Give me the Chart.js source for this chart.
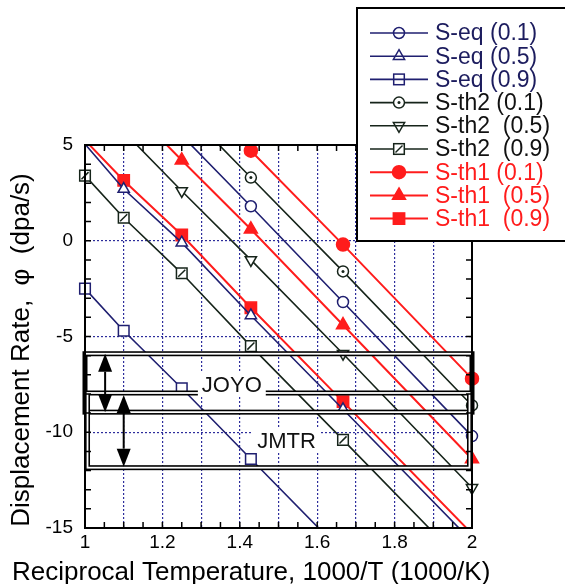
<!DOCTYPE html>
<html>
<head>
<meta charset="utf-8">
<script src="https://cdn.jsdelivr.net/npm/chart.js@4.4.0/dist/chart.umd.min.js"></script>
<style>
html, body { margin: 0; padding: 0; background: #fff; }
#caixa { width: 565px; height: 584px; }
</style>
</head>
<body>
<div id="caixa"><canvas id="grafico" width="565" height="584"></canvas></div>
<script>
// 1000/T nos pontos calculados (1000, 909, 800, 700, 600, 500 K)
const recipT = [1.0, 1.1, 1.25, 1.4286, 1.6667, 2.0];

// taxa de deslocamento
const seq01  = [10.7, 8.6, 5.5, 1.8, -3.2, -10.2];
const seq05  = [5.05, 2.7, -0.1, -3.9, -8.8, -15.7];
const seq09  = [-2.5, -4.7, -7.7, -11.4, -16.3, -23.2];
const sth201 = [12.2, 10.1, 7.0, 3.3, -1.6, -8.6];
const sth205 = [7.8, 5.7, 2.6, -1.0, -5.9, -12.9];
const sth209 = [3.4, 1.2, -1.7, -5.5, -10.4, -17.3];
const sth101 = [13.6, 11.5, 8.4, 4.7, -0.2, -7.2];
const sth105 = [9.4, 7.3, 4.2, 0.6, -4.4, -11.4];
const sth109 = [5.25, 3.15, 0.3, -3.5, -8.4, -15.3];

const nomes = ['S-eq (0.1)', 'S-eq (0.5)', 'S-eq (0.9)',
               'S-th2 (0.1)', 'S-th2  (0.5)', 'S-th2  (0.9)',
               'S-th1 (0.1)', 'S-th1  (0.5)', 'S-th1  (0.9)'];
const series = [seq01, seq05, seq09, sth201, sth205, sth209, sth101, sth105, sth109];

const marcasX = [1, 1.1, 1.2, 1.3, 1.4, 1.5, 1.6, 1.7, 1.8, 1.9, 2];
const rotulosX = [1, 1.2, 1.4, 1.6, 1.8, 2];
const marcasY = [-15, -10, -5, 0, 5];

// faixas dos reatores
const joyo = [-5.9, -8.95];
const jmtr = [-7.95, -11.85];

const AZUL = '#1f1f70', PRETO = '#16241a', VERMELHO = '#ff1c1c', GRADE = '#2d2d9c';
const FONTE = '"Liberation Sans", Arial, sans-serif';

const estilos = [
    {cor: AZUL, ponto: 'circle', raio: 5.5, fundo: '#fff', rot: 0, larg: 1.6},
    {cor: AZUL, ponto: 'triangle', raio: 6.5, fundo: '#fff', rot: 0, larg: 1.6},
    {cor: AZUL, ponto: 'rect', raio: 7.5, fundo: '#fff', rot: 0, larg: 1.6},
    {cor: PRETO, ponto: 'circle', raio: 5.5, fundo: '#fff', rot: 0, larg: 1.6, extra: 'ponto'},
    {cor: PRETO, ponto: 'triangle', raio: 6.5, fundo: '#fff', rot: 180, larg: 1.6},
    {cor: PRETO, ponto: 'rect', raio: 7.5, fundo: '#fff', rot: 0, larg: 1.6, extra: 'barra'},
    {cor: VERMELHO, ponto: 'circle', raio: 6.5, fundo: VERMELHO, rot: 0, larg: 2},
    {cor: VERMELHO, ponto: 'triangle', raio: 7.5, fundo: VERMELHO, rot: 0, larg: 2},
    {cor: VERMELHO, ponto: 'rect', raio: 8, fundo: VERMELHO, rot: 0, larg: 2}
];

function raioVisivel(r) {
    return function(c) {
        const v = c.raw ? c.raw.y : null;
        return (v === null || v > 5 || v < -15) ? 0 : r;
    };
}
function pares(vals) {
    return recipT.map(function(t, k) { return {x: t, y: vals[k]}; });
}
const CLIP = {left: 12, right: 12, top: 0, bottom: 0};

const datasets = series.map(function(vals, i) {
    const e = estilos[i];
    return {
        label: nomes[i],
        data: pares(vals),
        borderColor: e.cor,
        borderWidth: e.larg,
        backgroundColor: e.fundo,
        pointStyle: e.ponto,
        pointRotation: e.rot,
        pointBorderColor: e.cor,
        pointBackgroundColor: e.fundo,
        pointBorderWidth: 1.5,
        pointRadius: raioVisivel(e.raio),
        pointHoverRadius: 0,
        tension: 0,
        clip: CLIP
    };
});
// detalhes dos marcadores S-th2: ponto central e barra diagonal (desenhados por cima)
datasets.push({
    label: '', data: pares(sth201), showLine: false, order: -1,
    pointStyle: 'circle', pointRadius: raioVisivel(1.5), pointBorderWidth: 0,
    pointBackgroundColor: PRETO, pointBorderColor: PRETO, pointHoverRadius: 0, clip: CLIP
});
datasets.push({
    label: '', data: pares(sth209), showLine: false, order: -1,
    pointStyle: 'line', pointRotation: -45, pointRadius: raioVisivel(5), pointBorderWidth: 1.5,
    pointBorderColor: PRETO, pointBackgroundColor: PRETO, pointHoverRadius: 0, clip: CLIP
});

function desenhaMarca(ctx, e, x, y, fundo) {
    ctx.save();
    ctx.strokeStyle = e.cor; ctx.lineWidth = 1.5; ctx.fillStyle = fundo || '#fff';
    if (e.ponto === 'circle') {
        ctx.beginPath(); ctx.arc(x, y, e.raio, 0, 2 * Math.PI);
        if (fundo) ctx.fill(); ctx.stroke();
    } else if (e.ponto === 'triangle') {
        ctx.beginPath();
        for (let k = 0; k < 3; k++) {
            const a = (e.rot + k * 120) * Math.PI / 180;
            const px = x + Math.sin(a) * e.raio, py = y - Math.cos(a) * e.raio;
            if (k === 0) ctx.moveTo(px, py); else ctx.lineTo(px, py);
        }
        ctx.closePath();
        if (fundo) ctx.fill(); ctx.stroke();
    } else {
        const s = e.raio * Math.SQRT1_2;
        if (fundo) ctx.fillRect(x - s, y - s, 2 * s, 2 * s);
        ctx.strokeRect(x - s, y - s, 2 * s, 2 * s);
    }
    if (e.extra === 'ponto') {
        ctx.beginPath(); ctx.arc(x, y, 1.5, 0, 2 * Math.PI); ctx.fillStyle = e.cor; ctx.fill();
    } else if (e.extra === 'barra') {
        ctx.beginPath(); ctx.moveTo(x - 3.5, y + 3.5); ctx.lineTo(x + 3.5, y - 3.5); ctx.stroke();
    }
    ctx.restore();
}

function seta(ctx, x, y1, y2) {
    const h = 18, w = 7;
    ctx.save();
    ctx.fillStyle = '#000'; ctx.strokeStyle = '#000'; ctx.lineWidth = 2;
    ctx.beginPath(); ctx.moveTo(x, y1 + h); ctx.lineTo(x, y2 - h); ctx.stroke();
    ctx.beginPath(); ctx.moveTo(x, y1); ctx.lineTo(x - w, y1 + h); ctx.lineTo(x + w, y1 + h); ctx.closePath(); ctx.fill();
    ctx.beginPath(); ctx.moveTo(x, y2); ctx.lineTo(x - w, y2 - h); ctx.lineTo(x + w, y2 - h); ctx.closePath(); ctx.fill();
    ctx.restore();
}

function caixaDupla(ctx, x1, y1, x2, y2) {
    ctx.save();
    ctx.strokeStyle = '#000'; ctx.lineWidth = 5;
    ctx.strokeRect(x1, y1, x2 - x1, y2 - y1);
    ctx.strokeStyle = '#fff'; ctx.lineWidth = 1.8;
    ctx.strokeRect(x1, y1, x2 - x1, y2 - y1);
    ctx.restore();
}

function rotulo(ctx, texto, x, y, fundo) {
    ctx.save();
    ctx.font = '22px ' + FONTE;
    ctx.textAlign = 'left'; ctx.textBaseline = 'alphabetic';
    const w = ctx.measureText(texto).width;
    ctx.fillStyle = '#fff';
    ctx.fillRect(x - fundo, y - 20, w + 2 * fundo, 25);
    ctx.fillStyle = '#111';
    ctx.fillText(texto, x, y);
    ctx.restore();
}

const extras = {
    id: 'extras',
    afterDatasetsDraw: function(chart) {
        const ctx = chart.ctx, a = chart.chartArea;
        const sx = chart.scales.x, sy = chart.scales.y;
        // faixas JOYO / JMTR
        caixaDupla(ctx, sx.getPixelForValue(1), sy.getPixelForValue(joyo[0]), sx.getPixelForValue(2), sy.getPixelForValue(joyo[1]));
        caixaDupla(ctx, sx.getPixelForValue(1.0065), sy.getPixelForValue(jmtr[0]), sx.getPixelForValue(1.9935), sy.getPixelForValue(jmtr[1]));
        seta(ctx, sx.getPixelForValue(1.052), sy.getPixelForValue(joyo[0]), sy.getPixelForValue(joyo[1]));
        seta(ctx, sx.getPixelForValue(1.1), sy.getPixelForValue(jmtr[0]) + 2, sy.getPixelForValue(jmtr[1]) - 1);
        rotulo(ctx, 'JOYO', sx.getPixelForValue(1.302), sy.getPixelForValue(-7.88), 4);
        rotulo(ctx, 'JMTR', sx.getPixelForValue(1.445), sy.getPixelForValue(-10.8), 5);
        // moldura
        ctx.save();
        ctx.strokeStyle = '#000'; ctx.lineWidth = 2;
        ctx.strokeRect(a.left, a.top, a.right - a.left, a.bottom - a.top);
        // marcas internas
        ctx.lineWidth = 1.5;
        ctx.beginPath();
        for (let k = 0; k <= 20; k++) {
            const px = sx.getPixelForValue(1 + k * 0.05);
            ctx.moveTo(px, a.bottom); ctx.lineTo(px, a.bottom - 6);
            ctx.moveTo(px, a.top); ctx.lineTo(px, a.top + 6);
        }
        for (let v = -15; v <= 5; v++) {
            const py = sy.getPixelForValue(v);
            ctx.moveTo(a.left, py); ctx.lineTo(a.left + 6, py);
            ctx.moveTo(a.right, py); ctx.lineTo(a.right - 6, py);
        }
        ctx.stroke();
        ctx.restore();
    },
    afterDraw: function(chart) {
        const ctx = chart.ctx;
        ctx.save();
        // titulos dos eixos
        ctx.fillStyle = '#000';
        ctx.font = '26px ' + FONTE;
        ctx.textAlign = 'left'; ctx.textBaseline = 'alphabetic';
        ctx.fillText('Reciprocal Temperature, 1000/T (1000/K)', 12, 580);
        ctx.translate(29, 350);
        ctx.rotate(-Math.PI / 2);
        ctx.textAlign = 'center';
        ctx.fillText('Displacement Rate,  \u03c6  (dpa/s)', 0, 0);
        ctx.restore();

        // legenda
        ctx.save();
        ctx.fillStyle = '#fff';
        ctx.fillRect(357, 8, 220, 233);
        ctx.strokeStyle = '#000'; ctx.lineWidth = 2;
        ctx.strokeRect(357, 8, 220, 233);
        ctx.font = '23px ' + FONTE;
        ctx.textBaseline = 'middle'; ctx.textAlign = 'left';
        for (let i = 0; i < nomes.length; i++) {
            const e = estilos[i];
            const y = 33 + i * 23.2;
            ctx.strokeStyle = e.cor; ctx.lineWidth = e.larg;
            ctx.beginPath(); ctx.moveTo(370, y); ctx.lineTo(428, y); ctx.stroke();
            const aberto = (i < 3 || i === 4) ? null : e.fundo;
            desenhaMarca(ctx, e, 399, y, aberto);
            ctx.fillStyle = i < 3 ? '#1c1c5e' : (i < 6 ? '#111' : VERMELHO);
            ctx.fillText(nomes[i], 435, y + 1);
        }
        ctx.restore();
    }
};

new Chart(document.getElementById('grafico'), {
    type: 'line',
    data: { datasets: datasets },
    options: {
        responsive: false,
        animation: false,
        devicePixelRatio: 1,
        layout: { padding: { top: 145, right: 93, left: 0, bottom: 0 } },
        plugins: { legend: { display: false }, tooltip: { enabled: false } },
        scales: {
            x: {
                type: 'linear', min: 1, max: 2,
                afterFit: function(s) { s.height = 56; },
                afterBuildTicks: function(s) { s.ticks = marcasX.map(function(v) { return {value: v}; }); },
                ticks: {
                    autoSkip: false, maxRotation: 0, padding: 3, color: '#000',
                    font: { family: FONTE, size: 19 },
                    callback: function(v) { return rotulosX.indexOf(v) >= 0 ? String(v) : ''; }
                },
                grid: {
                    drawTicks: false, lineWidth: 1.2,
                    color: function(c) { const v = c.tick ? c.tick.value : 0; return (v <= 1 || v >= 2) ? 'rgba(0,0,0,0)' : GRADE; }
                },
                border: { display: false, dash: [2, 2] }
            },
            y: {
                type: 'linear', min: -15, max: 5,
                afterFit: function(s) { s.width = 85; },
                afterBuildTicks: function(s) { s.ticks = marcasY.map(function(v) { return {value: v}; }); },
                ticks: {
                    padding: 12, color: '#000',
                    font: { family: FONTE, size: 19 },
                    callback: function(v) { return String(v); }
                },
                grid: {
                    drawTicks: false, lineWidth: 1.2,
                    color: function(c) { const v = c.tick ? c.tick.value : 0; return (v <= -15 || v >= 5) ? 'rgba(0,0,0,0)' : GRADE; }
                },
                border: { display: false, dash: [2, 2] }
            }
        }
    },
    plugins: [extras]
});
</script>
</body>
</html>
